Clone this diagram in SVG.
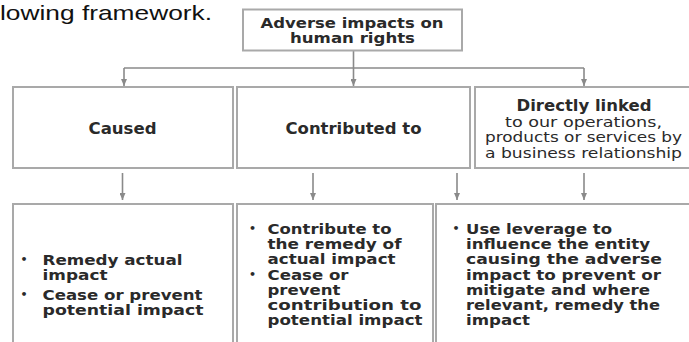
<svg xmlns="http://www.w3.org/2000/svg" width="689" height="342" viewBox="0 0 689 342">
  <style>
    .box { fill: #ffffff; stroke: #a9a9a9; stroke-width: 2; }
    .wire { fill: none; stroke: #8a8a8a; stroke-width: 1.6; }
    .hd { font-family: "DejaVu Sans", Verdana, sans-serif; font-weight: bold; font-size: 15px; fill: #2a2a2a; }
    .top { font-family: "DejaVu Sans", Verdana, sans-serif; font-weight: bold; font-size: 14px; fill: #2a2a2a; }
    .rg { font-family: "DejaVu Sans", Verdana, sans-serif; font-size: 14.5px; fill: #2a2a2a; }
    .bl { font-family: "DejaVu Sans", Verdana, sans-serif; font-weight: bold; font-size: 14px; fill: #2a2a2a; }
    .dot { font-family: "DejaVu Sans", Verdana, sans-serif; font-weight: bold; font-size: 11px; fill: #2a2a2a; }
    .intro { font-family: "Liberation Sans", Arial, sans-serif; font-size: 21px; fill: #111111; }
  </style>
  <defs>
    <marker id="arrow" markerUnits="userSpaceOnUse" markerWidth="7" markerHeight="6" refX="7" refY="3" orient="auto">
      <path d="M0,0 L7,3 L0,6 z" fill="#8a8a8a"/>
    </marker>
  </defs>

  <rect width="689" height="342" fill="#ffffff"/>

  <text class="intro" x="0" y="19.5" textLength="212" lengthAdjust="spacingAndGlyphs">lowing framework.</text>

  <!-- connectors -->
  <g id="connectors">
    <line class="wire" x1="353.5" y1="51" x2="353.5" y2="86" marker-end="url(#arrow)"/>
    <line class="wire" x1="124" y1="68" x2="584" y2="68"/>
    <line class="wire" x1="124" y1="68" x2="124" y2="86" marker-end="url(#arrow)"/>
    <line class="wire" x1="584" y1="68" x2="584" y2="86" marker-end="url(#arrow)"/>
    <line class="wire" x1="122.5" y1="173" x2="122.5" y2="200" marker-end="url(#arrow)"/>
    <line class="wire" x1="313" y1="173" x2="313" y2="200" marker-end="url(#arrow)"/>
    <line class="wire" x1="457" y1="173" x2="457" y2="200" marker-end="url(#arrow)"/>
    <line class="wire" x1="584" y1="173" x2="584" y2="200" marker-end="url(#arrow)"/>
  </g>

  <!-- root -->
  <g id="root">
    <rect class="box" x="243" y="9.5" width="219" height="41"/>
    <text class="top" x="352" y="27.5" text-anchor="middle" textLength="183" lengthAdjust="spacingAndGlyphs">Adverse impacts on</text>
    <text class="top" x="352.5" y="43" text-anchor="middle" textLength="125" lengthAdjust="spacingAndGlyphs">human rights</text>
  </g>

  <!-- categories -->
  <g id="caused">
    <rect class="box" x="13" y="87" width="220" height="81"/>
    <text class="hd" x="122.5" y="133.5" text-anchor="middle" textLength="68" lengthAdjust="spacingAndGlyphs">Caused</text>
  </g>
  <g id="contributed">
    <rect class="box" x="237" y="87" width="233" height="81"/>
    <text class="hd" x="353.5" y="133.5" text-anchor="middle" textLength="136" lengthAdjust="spacingAndGlyphs">Contributed to</text>
  </g>
  <g id="linked">
    <rect class="box" x="475" y="87" width="216" height="81"/>
    <text class="hd" x="584" y="110.5" text-anchor="middle" textLength="135" lengthAdjust="spacingAndGlyphs">Directly linked</text>
    <text class="rg" x="583.5" y="126.5" text-anchor="middle" textLength="157" lengthAdjust="spacingAndGlyphs">to our operations,</text>
    <text class="rg" x="583.5" y="142" text-anchor="middle" textLength="197" lengthAdjust="spacingAndGlyphs">products or services by</text>
    <text class="rg" x="583.5" y="157.5" text-anchor="middle" textLength="197" lengthAdjust="spacingAndGlyphs">a business relationship</text>
  </g>

  <!-- responses -->
  <g id="response-caused">
    <rect class="box" x="13" y="204" width="220" height="150"/>
    <text class="dot" x="20.5" y="263">•</text>
    <text class="bl" x="42.5" y="265" textLength="140" lengthAdjust="spacingAndGlyphs">Remedy actual</text>
    <text class="bl" x="42.5" y="280" textLength="65" lengthAdjust="spacingAndGlyphs">impact</text>
    <text class="dot" x="20.5" y="298">•</text>
    <text class="bl" x="42.5" y="300" textLength="160" lengthAdjust="spacingAndGlyphs">Cease or prevent</text>
    <text class="bl" x="42.5" y="315" textLength="161" lengthAdjust="spacingAndGlyphs">potential impact</text>
  </g>
  <g id="response-contributed">
    <rect class="box" x="237" y="204" width="196" height="150"/>
    <text class="dot" x="249" y="232">•</text>
    <text class="bl" x="267.5" y="234" textLength="124" lengthAdjust="spacingAndGlyphs">Contribute to</text>
    <text class="bl" x="267.5" y="249" textLength="134" lengthAdjust="spacingAndGlyphs">the remedy of</text>
    <text class="bl" x="267.5" y="264" textLength="128" lengthAdjust="spacingAndGlyphs">actual impact</text>
    <text class="dot" x="249" y="278">•</text>
    <text class="bl" x="267.5" y="280" textLength="81" lengthAdjust="spacingAndGlyphs">Cease or</text>
    <text class="bl" x="267.5" y="295" textLength="73" lengthAdjust="spacingAndGlyphs">prevent</text>
    <text class="bl" x="267.5" y="310" textLength="154" lengthAdjust="spacingAndGlyphs">contribution to</text>
    <text class="bl" x="267.5" y="325" textLength="155" lengthAdjust="spacingAndGlyphs">potential impact</text>
  </g>
  <g id="response-linked">
    <rect class="box" x="436" y="204" width="255" height="150"/>
    <text class="dot" x="452.5" y="232">•</text>
    <text class="bl" x="466" y="234" textLength="146" lengthAdjust="spacingAndGlyphs">Use leverage to</text>
    <text class="bl" x="466" y="249" textLength="184" lengthAdjust="spacingAndGlyphs">influence the entity</text>
    <text class="bl" x="466" y="264" textLength="196" lengthAdjust="spacingAndGlyphs">causing the adverse</text>
    <text class="bl" x="466" y="280" textLength="195" lengthAdjust="spacingAndGlyphs">impact to prevent or</text>
    <text class="bl" x="466" y="295" textLength="184" lengthAdjust="spacingAndGlyphs">mitigate and where</text>
    <text class="bl" x="466" y="310" textLength="194" lengthAdjust="spacingAndGlyphs">relevant, remedy the</text>
    <text class="bl" x="466" y="325" textLength="64" lengthAdjust="spacingAndGlyphs">impact</text>
  </g>
</svg>
